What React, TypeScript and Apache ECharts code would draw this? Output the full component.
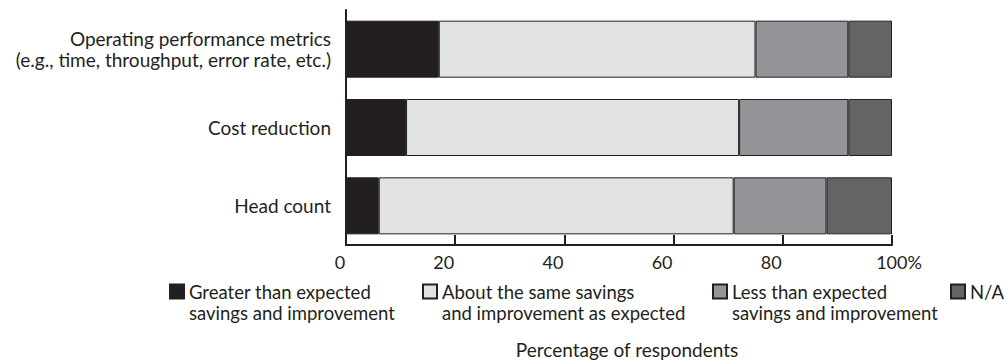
import React, { useEffect, useRef } from "react";
import * as echarts from "echarts";

const categories = [
  "Operating performance metrics\n(e.g., time, throughput, error rate, etc.)",
  "Cost reduction",
  "Head count",
];
const greaterThanExpected = [17, 11, 6];
const aboutTheSame = [58, 61, 65];
const lessThanExpected = [17, 20, 17];
const notApplicable = [8, 8, 12];

const seriesNames = [
  "Greater than expected savings and improvement",
  "About the same savings and improvement as expected",
  "Less than expected savings and improvement",
  "N/A",
];
const legendLine1 = ["Greater than expected", "About the same savings", "Less than expected", "N/A"];
const legendLine2 = ["savings and improvement", "and improvement as expected", "savings and improvement", ""];
const xTickValues = [0, 20, 40, 60, 80, 100];
const xAxisTitle = "Percentage of respondents";

const colors = ["#231f20", "#e1e2e4", "#939598", "#636466"];
const ink = "#231f20";
const font = "Lato";

export default function App() {
  const ref = useRef<HTMLDivElement>(null);
  useEffect(() => {
    document.body.style.margin = "0";
    if (!ref.current) return;
    const chart = echarts.init(ref.current, undefined, { renderer: "svg" });
    const values = [greaterThanExpected, aboutTheSame, lessThanExpected, notApplicable];
    const legendLeft = [169, 422, 712, 950];
    const legends = seriesNames.map((name, i) => {
      const twoLines = legendLine2[i] !== "";
      return {
        data: [{ name, icon: "rect" }],
        left: legendLeft[i],
        top: 282,
        orient: "horizontal",
        padding: 0,
        itemWidth: 14,
        itemHeight: 14,
        selectedMode: false,
        formatter: () =>
          twoLines ? `{a|${legendLine1[i]}}\n{a|${legendLine2[i]}}` : `{a|${legendLine1[i]}}`,
        textStyle: {
          padding: twoLines ? [21, 0, 0, 0] : 0,
          rich: {
            a: { fontFamily: font, fontSize: 18.5, color: ink, lineHeight: 21 },
          },
        },
      };
    });
    chart.setOption({
      animation: false,
      textStyle: { fontFamily: font, color: ink },
      grid: { left: 346, right: 115, top: 10, bottom: 115, containLabel: false },
      legend: legends,
      xAxis: {
        type: "value",
        min: 0,
        max: 100,
        interval: 20,
        axisLine: { show: true, lineStyle: { color: ink, width: 2 } },
        axisTick: { show: true, inside: true, length: 10, lineStyle: { color: ink, width: 2 } },
        splitLine: { show: false },
        axisLabel: {
          margin: 8,
          customValues: xTickValues,
          formatter: (v: number) => {
            if (v === 100) return `{p|${v}%}`;
            return v < 10 ? `{o|${v}}` : `{t|${v}}`;
          },
          rich: {
            o: { fontFamily: font, fontSize: 18, color: ink, padding: [0, 12, 0, 0] },
            t: { fontFamily: font, fontSize: 18, color: ink, padding: [0, 23, 0, 0] },
            p: { fontFamily: font, fontSize: 18, color: ink, padding: [0, 0, 0, 14] },
          },
        },
      },
      yAxis: {
        type: "category",
        inverse: true,
        data: categories,
        axisLine: { show: true, lineStyle: { color: ink, width: 2 } },
        axisTick: { show: false },
        axisLabel: {
          margin: 15,
          fontFamily: font,
          fontSize: 19,
          lineHeight: 21,
          color: ink,
          align: "right",
        },
      },
      series: seriesNames.map((name, i) => ({
        name,
        type: "bar",
        stack: "total",
        barWidth: 57,
        data: values[i],
        itemStyle: { color: colors[i], borderColor: ink, borderWidth: 1 },
      })),
      graphic: [
        {
          type: "text",
          x: 627,
          y: 349,
          style: {
            text: xAxisTitle,
            fontFamily: font,
            fontSize: 19,
            fill: ink,
            textAlign: "center",
            textVerticalAlign: "middle",
          },
        },
      ],
    });
    return () => chart.dispose();
  }, []);
  return <div ref={ref} style={{ width: 1007, height: 360 }} />;
}
